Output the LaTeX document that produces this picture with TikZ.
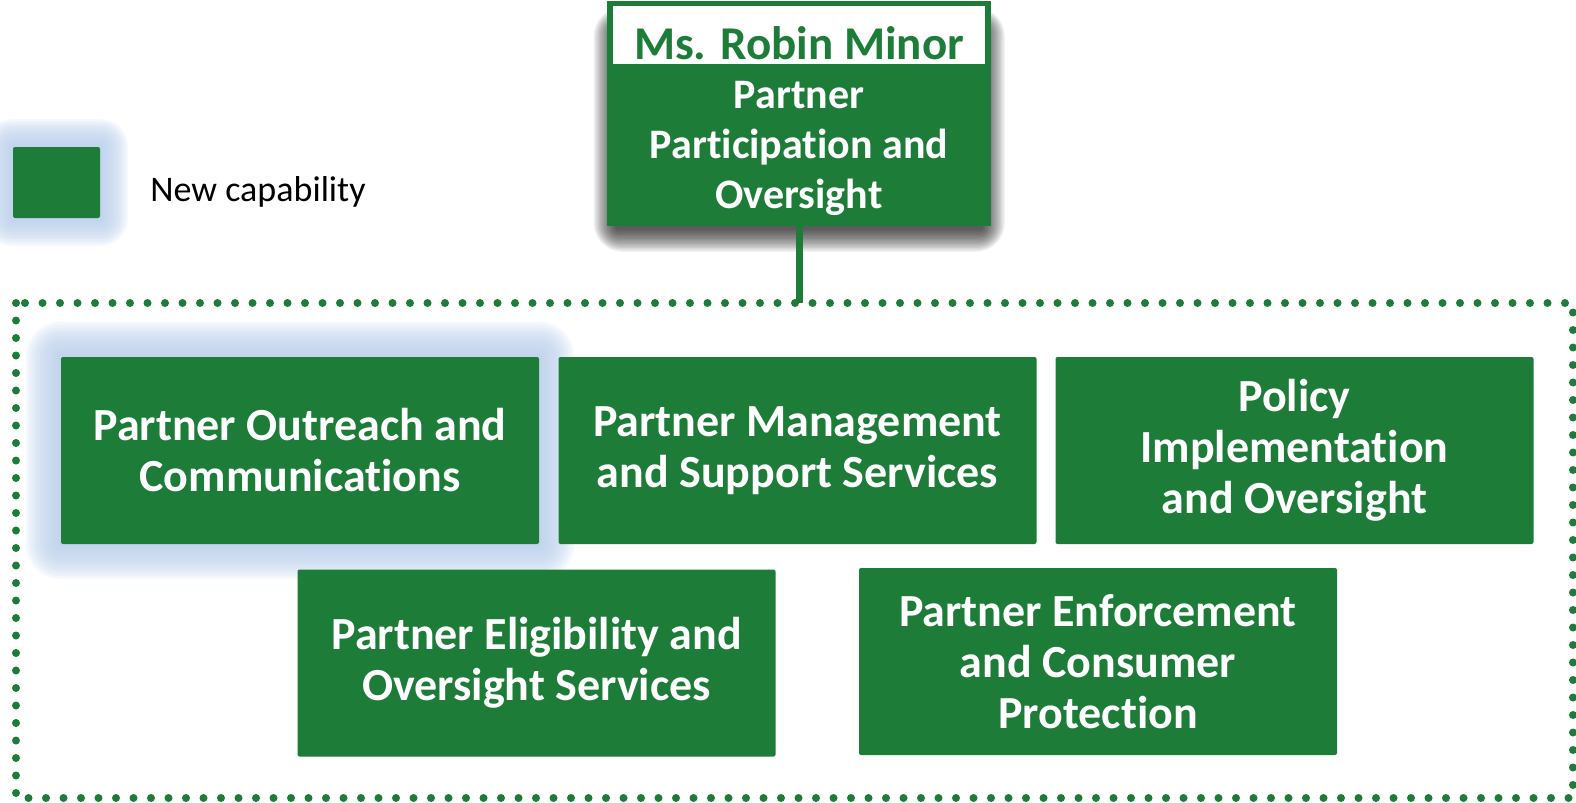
\documentclass[tikz,border=0pt]{standalone}
\usepackage{fontspec}
\setmainfont{Carlito}[RawFeature=-liga]
\usetikzlibrary{calc, positioning, backgrounds}

\definecolor{orggreen}{RGB}{30,124,57}
\definecolor{glowblue}{RGB}{184,205,234}

% soft blue halo round a node: #1 node, #2 step (px)
\newcommand{\nodeglow}[2]{%
  \foreach \i [evaluate=\i as \r using \i*#2*0.5] in {1,...,12}{
    \fill[glowblue, opacity=0.14, rounded corners=\r pt]
      ($(#1.north west)+(-\i*#2,-\i*#2)$) rectangle ($(#1.south east)+(\i*#2,\i*#2)$);
  }}

\tikzset{
  unitbox/.style={fill=orggreen, rounded corners=1pt, inner sep=0pt,
    minimum width=239pt, minimum height=93.5pt, align=center, text=white,
    font=\bfseries\fontsize{23}{25.5}\selectfont},
  headbox/.style={fill=orggreen, inner sep=0pt, minimum width=192pt,
    minimum height=78pt, align=center, text=white,
    font=\bfseries\fontsize{21}{25}\selectfont},
  titlebox/.style={fill=white, draw=orggreen, line width=2.8pt, inner sep=0pt,
    minimum width=189.2pt, minimum height=31.6pt},
  frameline/.style={orggreen, line width=4pt, line cap=round,
    dash pattern=on 0pt off 8.75pt},
  link/.style={orggreen, line width=3.5pt},
}

\begin{document}
\begin{tikzpicture}[x=0.5pt, y=-0.5pt]
\useasboundingbox (0,0) rectangle (1576,803);

% head of the office
\node[headbox] (head) at (799,148) {Partner\\Participation and\\Oversight};
\node[titlebox, anchor=south] (titlebox) at (head.north) {};
\node[font=\bfseries\fontsize{23.5}{25}\selectfont, text=orggreen, anchor=base, inner sep=0pt] (title) at (799,60) {Ms. Robin Minor};

% legend
\node[fill=orggreen, rounded corners=1pt, minimum width=43.5pt, minimum height=35.5pt] (legend) at (56.5,182.5) {};
\node[anchor=base west, font=\fontsize{18}{20}\selectfont, inner sep=0pt] (legendtext) at (150,201) {New capability};

% divisions
\node[unitbox] (outreach) at (300,450.5) {Partner Outreach and\\Communications};
\node[unitbox] (management) at (797.5,450.5) {Partner Management\\and Support Services};
\node[unitbox] (policy) at (1294.5,450.5) {Policy\\Implementation\\and Oversight};
\node[unitbox] (eligibility) at (536.5,663) {Partner Eligibility and\\Oversight Services};
\node[unitbox] (enforcement) at (1098,661.5) {Partner Enforcement\\and Consumer\\Protection};

% dotted frame
\draw[frameline] (16,303) rectangle (1573,798);
\coordinate (frametop) at (799,303);
\draw[link] (head.south) -- (frametop);

\begin{scope}[on background layer]
%shadow of the head box
\foreach \i [evaluate=\i as \r using \i*0.8] in {1,...,18}{
  \fill[black, opacity=0.055, rounded corners=\r pt]
    ($(titlebox.north west)+(10-\i*1.3,30-\i*1.3)$) rectangle ($(head.south east)+(\i*1.3-10,2+\i*1.3)$);
}
\nodeglow{legend}{2.3}
\nodeglow{outreach}{2.9}
\end{scope}
\end{tikzpicture}
\end{document}
